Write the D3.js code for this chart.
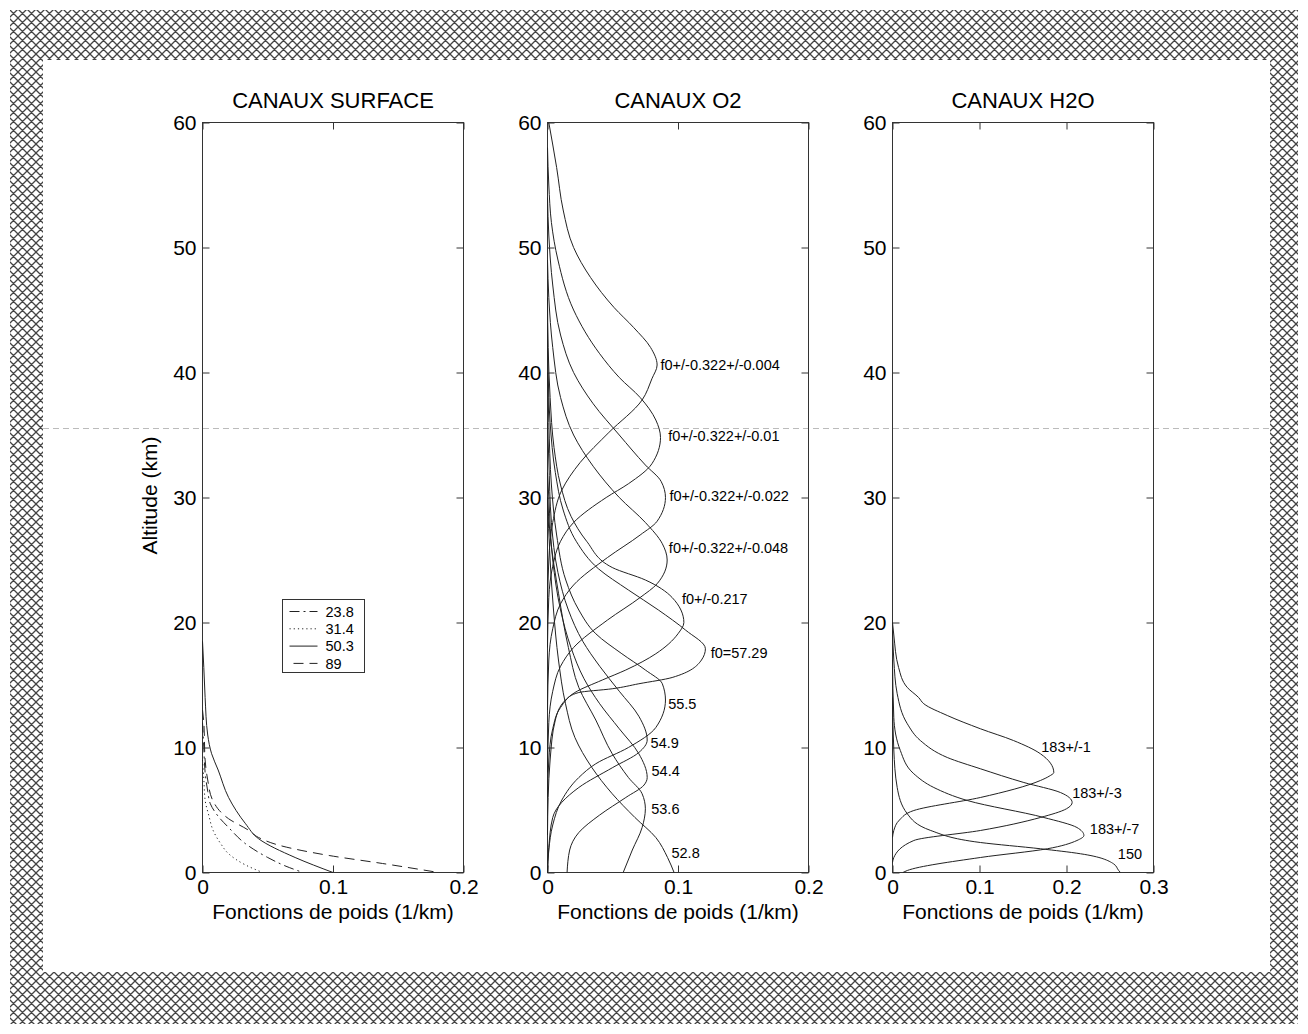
<!DOCTYPE html>
<html>
<head>
<meta charset="utf-8">
<script src="https://cdn.jsdelivr.net/npm/d3@7"></script>
<style>
  body { margin: 0; background: #fff; }
  svg { display: block; }
  text { font-family: Arial, "Liberation Sans", Helvetica, sans-serif; fill: #000; }
</style>
</head>
<body>
<svg id="fig" width="1308" height="1034"></svg>
<script>
// ---- data : [fonction de poids (1/km), altitude (km)] ----
const altTicks = [0, 10, 20, 30, 40, 50, 60]

// canaux surface
const surfaceNames = ['23.8', '31.4', '50.3', '89']
const surf238 = [[0,12],[0.001,10],[0.002,8],[0.004,6.5],[0.006,5.5],[0.012,4.5],[0.02,3.6],[0.033,2.3],[0.05,1.2],[0.064,0.5],[0.077,0]]
const surf314 = [[0,9],[0.001,7.5],[0.002,5.8],[0.005,4.5],[0.008,3.4],[0.014,2.3],[0.02,1.5],[0.033,0.6],[0.046,0]]
const surf503 = [[0,18.5],[0.001,16.4],[0.002,14],[0.004,11],[0.007,9.5],[0.012,8.2],[0.02,6],[0.033,3.9],[0.043,2.7],[0.071,1.2],[0.1,0]]
const surf89  = [[0,13],[0.001,12],[0.002,9],[0.004,7.4],[0.0077,5.8],[0.02,4.3],[0.035,3.4],[0.043,2.8],[0.058,2.2],[0.097,1.36],[0.138,0.72],[0.181,0]]
const surfaceSeries = [surf238, surf314, surf503, surf89]

// canaux O2
const o2Labels = ['f0+/-0.322+/-0.004','f0+/-0.322+/-0.01','f0+/-0.322+/-0.022','f0+/-0.322+/-0.048',
                  'f0+/-0.217','f0=57.29','55.5','54.9','54.4','53.6','52.8']
const o2_004 = [[0.001,60],[0.007,56.4],[0.012,53],[0.02,50],[0.033,47.6],[0.051,45.2],[0.066,43.6],[0.079,42],[0.084,40.6],[0.08,39.5],[0.0725,37.8],[0.047,35.2],[0.025,32.8],[0.011,30.6],[0.004,28],[0.001,25],[0,21]]
const o2_010 = [[0,58],[0.001,55],[0.003,52],[0.008,49],[0.02,45],[0.04,41.5],[0.055,39.6],[0.071,38],[0.083,36.2],[0.0866,34.8],[0.08,32.7],[0.062,31.1],[0.045,30],[0.02,28],[0.01,26.5],[0.004,24.5],[0.001,22],[0,18]]
const o2_022 = [[0,54],[0.001,51],[0.004,47],[0.01,43],[0.02,40],[0.035,37.5],[0.055,35],[0.075,32.6],[0.087,31.3],[0.0904,30],[0.084,28.1],[0.071,27],[0.046,25.2],[0.02,23],[0.01,21.5],[0.004,19.5],[0.001,17],[0,13]]
const o2_048 = [[0,49],[0.001,46],[0.004,42],[0.01,38],[0.02,35],[0.035,32.5],[0.055,30],[0.075,28],[0.088,26.3],[0.0917,25],[0.084,23.1],[0.071,22],[0.046,20.2],[0.02,18],[0.01,16.5],[0.004,14.5],[0.001,12],[0,8]]
const o2_217 = [[0,46],[0.0005,42],[0.002,38],[0.005,34],[0.01,31],[0.018,28.5],[0.03,26.5],[0.0496,24.4],[0.075,23.4],[0.0955,22],[0.1045,20],[0.1,19.1],[0.083,17.5],[0.06,16.2],[0.042,15.4],[0.021,14.4],[0.01,13.2],[0.004,11.5],[0.001,9],[0,6]]
const o2_5729 = [[0,44],[0.0005,40],[0.002,36],[0.006,32],[0.012,29],[0.022,26.5],[0.039,24.3],[0.062,22.6],[0.085,21],[0.1057,19.4],[0.121,17.9],[0.118,17],[0.0955,15.6],[0.07,15.1],[0.0496,14.7],[0.024,14.4],[0.0138,13.8],[0.006,12.2],[0.002,9],[0.0005,6],[0,3]]
const o2_555 = [[0,40],[0.001,36],[0.003,31],[0.007,27],[0.014,23.4],[0.024,21],[0.037,19.1],[0.057,17.5],[0.075,16.2],[0.088,15.1],[0.0904,13.8],[0.083,11.6],[0.062,10],[0.037,8.7],[0.024,7.6],[0.011,5.8],[0.004,3.8],[0.001,1.8],[0,0]]
const o2_549 = [[0,36],[0.001,33],[0.003,28],[0.008,24],[0.016,21],[0.027,18.5],[0.04,16.5],[0.055,14.5],[0.07,12.5],[0.0764,10.6],[0.07,9.6],[0.05,8.4],[0.024,6.8],[0.004,4.4],[0.001,2],[0,0]]
const o2_544 = [[0,32],[0.001,30],[0.004,25],[0.01,21],[0.018,18],[0.028,15.5],[0.04,13.5],[0.055,11.5],[0.07,9.5],[0.0764,7.6],[0.074,7],[0.06,6],[0.04,4.6],[0.024,3.2],[0.017,1.8],[0.015,0]]
const o2_536 = [[0,30],[0.002,27],[0.0085,22.3],[0.016,18],[0.024,14.8],[0.037,12.2],[0.0496,9.5],[0.062,7.6],[0.0725,6.3],[0.075,5.1],[0.0725,3.6],[0.065,1.8],[0.058,0]]
const o2_528 = [[0,30],[0.002,25],[0.0046,21],[0.0084,17],[0.0138,13.5],[0.021,10.8],[0.034,8.4],[0.0496,6.3],[0.067,4.4],[0.083,2.8],[0.092,1.2],[0.097,0]]
const o2Series = [o2_004, o2_010, o2_022, o2_048, o2_217, o2_5729, o2_555, o2_549, o2_544, o2_536, o2_528]
// point d'accroche des étiquettes (début du texte)
const o2LabelAt = [[0.0866,40.6],[0.0925,34.96],[0.0935,30.16],[0.093,26],[0.103,21.9],[0.125,17.6],[0.0925,13.5],[0.079,10.4],[0.0797,8.16],[0.0795,5.1],[0.095,1.6]]

// canaux H2O
const h2oLabels = ['183+/-1', '183+/-3', '183+/-7', '150']
const h2o_1 = [[0,20],[0.0015,19],[0.007,16.4],[0.017,14.8],[0.03,14],[0.036,13.5],[0.063,12.56],[0.101,11.5],[0.139,10.56],[0.17,9.5],[0.1854,8],[0.18,7.7],[0.17,7.36],[0.101,6],[0.0245,4.96],[0.008,4.2],[0.0015,3.36],[0,2.8]]
const h2o_3 = [[0,19.4],[0.0015,17],[0.0054,14.3],[0.017,11.9],[0.032,10.56],[0.063,9.2],[0.101,8.3],[0.151,7.2],[0.193,6.4],[0.2065,5.6],[0.2,5.1],[0.17,4.4],[0.101,3.36],[0.0245,2.56],[0.0015,1.2],[0,0.8]]
const h2o_7 = [[0,17],[0.0015,12.4],[0.009,9.76],[0.0245,7.9],[0.0475,6.8],[0.086,5.76],[0.174,4.4],[0.212,3.6],[0.22,2.96],[0.212,2.56],[0.178,1.9],[0.101,1.2],[0.017,0.16],[0.012,0]]
const h2o_150 = [[0,14],[0.0015,9.8],[0.0054,6.8],[0.017,4.7],[0.044,3.36],[0.101,2.4],[0.17,1.9],[0.216,1.5],[0.254,0.7],[0.26,0.16],[0.262,0]]
const h2oSeries = [h2o_1, h2o_3, h2o_7, h2o_150]
const h2oLabelAt = [[0.171,10.08],[0.2065,6.35],[0.2268,3.5],[0.259,1.5]]

// ---- styles ----
const surfaceDash = ['10,4,2,4', '1.2,3', null, '10,6']
const pw = 261, ph = 750, panelTop = 122
const lineColor = '#222'

const svg = d3.select('#fig')

// bordure hachurée
const defs = svg.append('defs')
const pat = defs.append('pattern')
  .attr('id', 'hatch')
  .attr('patternUnits', 'userSpaceOnUse')
  .attr('width', 9).attr('height', 9)
pat.append('path')
  .attr('d', 'M0,0L9,9M9,0L0,9M-1,8L1,10M8,-1L10,1')
  .attr('stroke', '#444').attr('stroke-width', 1.3)

svg.append('path')
  .attr('d', 'M10,10H1298V1024H10Z M43,60V972H1270V60Z')
  .attr('fill', 'url(#hatch)')
  .attr('fill-rule', 'evenodd')

// ligne pointillée grise qui traverse la figure
svg.append('line')
  .attr('x1', 43).attr('x2', 1270)
  .attr('y1', 428.5).attr('y2', 428.5)
  .attr('stroke', '#bbb')
  .attr('stroke-dasharray', '6,4')

function drawPanel(left, title, xDomain, xTicks) {
  const g = svg.append('g').attr('transform', `translate(${left + 0.5},${panelTop + 0.5})`)
  const x = d3.scaleLinear().domain(xDomain).range([0, pw])
  const y = d3.scaleLinear().domain([0, 60]).range([ph, 0])

  const styleAxis = sel => {
    sel.select('.domain').remove()
    sel.selectAll('.tick line').attr('stroke', '#333')
    sel.selectAll('.tick text').attr('font-size', 21).attr('fill', '#000')
  }

  g.append('g').call(d3.axisLeft(y).tickValues(altTicks).tickSize(-7).tickPadding(6)).call(styleAxis)
  g.append('g').attr('transform', `translate(${pw},0)`)
    .call(d3.axisRight(y).tickValues(altTicks).tickSize(-7).tickFormat('')).call(styleAxis)
  g.append('g').attr('transform', `translate(0,${ph})`)
    .call(d3.axisBottom(x).tickValues(xTicks).tickSize(-7).tickPadding(7).tickFormat(d => d)).call(styleAxis)
  g.append('g')
    .call(d3.axisTop(x).tickValues(xTicks).tickSize(-7).tickFormat('')).call(styleAxis)

  g.append('rect')
    .attr('width', pw).attr('height', ph)
    .attr('fill', 'none').attr('stroke', '#333')

  g.append('text')
    .attr('x', pw / 2).attr('y', -15)
    .attr('text-anchor', 'middle')
    .attr('font-size', 22)
    .text(title)

  g.append('text')
    .attr('x', pw / 2).attr('y', ph + 46)
    .attr('text-anchor', 'middle')
    .attr('font-size', 21)
    .text('Fonctions de poids (1/km)')

  const line = d3.line()
    .x(d => x(d[0]))
    .y(d => y(d[1]))
    .curve(d3.curveMonotoneY)

  return { g, x, y, line }
}

// ---- CANAUX SURFACE ----
const p1 = drawPanel(202, 'CANAUX SURFACE', [0, 0.2], [0, 0.1, 0.2])
p1.g.selectAll('path.curve')
  .data(surfaceSeries)
  .enter()
  .append('path')
  .classed('curve', true)
  .attr('d', p1.line)
  .attr('fill', 'none')
  .attr('stroke', lineColor)
  .attr('stroke-width', 1)
  .attr('stroke-dasharray', (d, i) => surfaceDash[i])

p1.g.append('text')
  .attr('transform', `translate(${-46},${ph / 2 - 2}) rotate(-90)`)
  .attr('text-anchor', 'middle')
  .attr('font-size', 21)
  .text('Altitude (km)')

// légende
const leg = p1.g.append('g').attr('transform', 'translate(80,477)')
leg.append('rect')
  .attr('width', 82).attr('height', 73)
  .attr('fill', '#fff').attr('stroke', '#333')
surfaceNames.forEach((name, i) => {
  const yy = 12 + i * 17.3
  leg.append('line')
    .attr('x1', i === 3 ? 11 : 7).attr('x2', 35)
    .attr('y1', yy).attr('y2', yy)
    .attr('stroke', lineColor)
    .attr('stroke-dasharray', surfaceDash[i])
  leg.append('text')
    .attr('x', 43).attr('y', yy)
    .attr('dy', '0.36em')
    .attr('font-size', 14.5)
    .attr('fill', '#222')
    .text(name)
})

// ---- CANAUX O2 ----
const p2 = drawPanel(547, 'CANAUX O2', [0, 0.2], [0, 0.1, 0.2])
p2.g.selectAll('path.curve')
  .data(o2Series)
  .enter()
  .append('path')
  .classed('curve', true)
  .attr('d', p2.line)
  .attr('fill', 'none')
  .attr('stroke', lineColor)
  .attr('stroke-width', 1)
p2.g.selectAll('text.lab')
  .data(o2Labels)
  .enter()
  .append('text')
  .classed('lab', true)
  .attr('x', (d, i) => p2.x(o2LabelAt[i][0]))
  .attr('y', (d, i) => p2.y(o2LabelAt[i][1]))
  .attr('dy', '0.36em')
  .attr('font-size', 14.5)
  .attr('fill', '#222')
  .text(d => d)

// ---- CANAUX H2O ----
const p3 = drawPanel(892, 'CANAUX H2O', [0, 0.3], [0, 0.1, 0.2, 0.3])
p3.g.selectAll('path.curve')
  .data(h2oSeries)
  .enter()
  .append('path')
  .classed('curve', true)
  .attr('d', p3.line)
  .attr('fill', 'none')
  .attr('stroke', lineColor)
  .attr('stroke-width', 1)
p3.g.selectAll('text.lab')
  .data(h2oLabels)
  .enter()
  .append('text')
  .classed('lab', true)
  .attr('x', (d, i) => p3.x(h2oLabelAt[i][0]))
  .attr('y', (d, i) => p3.y(h2oLabelAt[i][1]))
  .attr('dy', '0.36em')
  .attr('font-size', 14.5)
  .attr('fill', '#222')
  .text(d => d)
</script>
</body>
</html>
